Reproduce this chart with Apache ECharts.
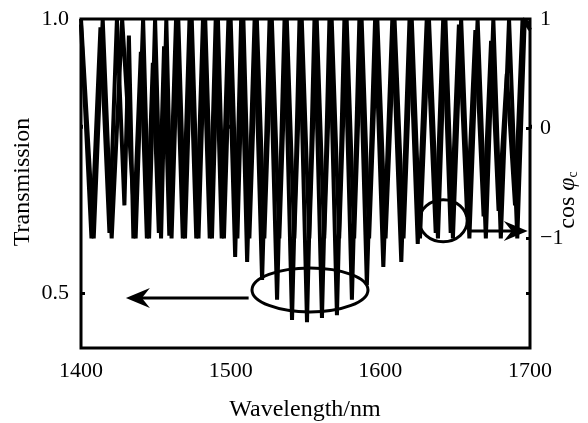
<!DOCTYPE html>
<html><head><meta charset="utf-8">
<script src="https://cdn.jsdelivr.net/npm/echarts@6/dist/echarts.min.js"></script>
<style>html,body{margin:0;padding:0;background:#fff}#c{width:588px;height:423px}</style>
</head><body><div id="c"></div><script>
// Transmission curve (left axis): alternating peaks and dips
const transWave = [1400,1407,1413,1419,1424,1429,1432,1435,1440,1444,1448,1452,1455.5,1459,1463.5,1468,1472.5,1477,1481.5,1486,1490,1494,1498.5,1503,1507,1511,1516,1521,1526,1531,1536,1541,1546,1551,1556,1561,1566,1571,1576,1581,1586,1591,1596.5,1602,1608,1614,1619.5,1625,1631,1637,1642,1647,1652.5,1658,1663.5,1669,1674,1679,1684.5,1690,1695,1700];
const transValue = [0.99,0.60,0.985,0.61,1.0,0.66,0.97,0.60,0.94,0.60,0.92,0.61,0.95,0.605,1.0,0.60,1.0,0.60,1.0,0.60,1.0,0.60,1.0,0.566,1.0,0.557,1.0,0.524,1.0,0.488,1.0,0.451,1.0,0.447,1.0,0.455,1.0,0.46,1.0,0.488,1.0,0.515,1.0,0.548,1.0,0.557,1.0,0.59,1.0,0.61,1.0,0.61,0.99,0.64,0.98,0.64,0.96,0.65,0.90,0.66,1.0,0.99];
// cos(phi_c) curve (right axis)
const cosWave = [1400,1408.5,1414.5,1420.5,1427.5,1436.5,1441.5,1445.5,1449.5,1453.5,1457,1460.5,1465,1469.5,1474,1478.5,1483,1487.5,1491.5,1495.5,1500,1504.5,1508.5,1512.5,1517.5,1522.5,1527.5,1532.5,1537.5,1542.5,1547.5,1552.5,1557.5,1562.5,1567.5,1572.5,1577.5,1582.5,1587.5,1592.5,1598,1603.5,1609.5,1615.5,1621,1626.5,1632.5,1638.5,1643.5,1648.5,1654,1659.5,1665,1670.5,1675.5,1680.5,1686,1691.5,1696.5,1700];
const cosValue = [1,-1,1,-1,1,-1,1,-1,1,-1,1,-1,1,-1,1,-1,1,-1,1,-1,1,-1,1,-1,1,-1,1,-1,1,-1,1,-1,1,-1,1,-1,1,-1,1,-1,1,-1,1,-1,1,-1,1,-1,1,-1,1,-1,1,-1,1,-1,1,-1,1,0.9];
const xTickLabels = [1400,1500,1600,1700];
const leftTickLabels = [0.5,1.0];
const rightTickLabels = [-1,0,1];
const xName = 'Wavelength/nm';
const leftName = 'Transmission';

const FONT = 'Liberation Serif, Times New Roman, serif';
const chart = echarts.init(document.getElementById('c'), null, {renderer:'canvas'});
const tData = transWave.map((w,i)=>[w,transValue[i]]);
const cData = cosWave.map((w,i)=>[w,cosValue[i]]);
const minus = v => (v<0 ? '\u2212'+Math.abs(v) : String(v));

chart.setOption({
  animation:false,
  backgroundColor:'#fff',
  grid:{left:81,right:58,top:19,bottom:75,show:true,borderColor:'#000',borderWidth:3,backgroundColor:'transparent'},
  xAxis:{type:'value',min:1400,max:1700,interval:50,
    axisLine:{show:false},splitLine:{show:false},
    axisTick:{show:true,inside:true,length:4,lineStyle:{color:'#000',width:3}},
    axisLabel:{color:'#000',fontFamily:FONT,fontSize:22,margin:12,
      formatter:v=>xTickLabels.includes(v)?String(v):''}},
  yAxis:[
    {type:'value',min:0.4,max:1.0,position:'left',
      axisLine:{show:false},splitLine:{show:false},
      axisTick:{show:true,inside:true,length:4,customValues:[0.5],lineStyle:{color:'#000',width:3}},
      axisLabel:{color:'#000',fontFamily:FONT,fontSize:22,margin:12,customValues:leftTickLabels,formatter:v=>v.toFixed(1)}},
    {type:'value',min:-2,max:1,position:'right',
      axisLine:{show:false},splitLine:{show:false},
      axisTick:{show:true,inside:true,length:4,customValues:[-1.5,-1,0],lineStyle:{color:'#000',width:3}},
      axisLabel:{color:'#000',fontFamily:FONT,fontSize:22,margin:10,customValues:rightTickLabels,formatter:minus}}
  ],
  series:[
    {type:'line',name:'T',yAxisIndex:0,data:tData,showSymbol:false,symbol:'none',
      lineStyle:{color:'#000',width:4},z:3},
    {type:'line',name:'cos',yAxisIndex:1,data:cData,showSymbol:false,symbol:'none',
      lineStyle:{color:'#000',width:4},z:3}
  ]
});

// annotations placed in data coordinates
const pL = p => chart.convertToPixel({xAxisIndex:0,yAxisIndex:0},p);
const pR = p => chart.convertToPixel({xAxisIndex:0,yAxisIndex:1},p);
const e1 = pL([1553,0.506]);
const a1s = pL([1512,0.491]), a1e = pL([1430,0.491]);
const e2 = pR([1642,-0.84]);
const a2s = pR([1659,-0.933]), a2e = pR([1698.5,-0.933]);
const head = (tip, dir) => { // dir: -1 left, +1 right
  const L=24, H=10, N=8;
  return [[tip[0],tip[1]],[tip[0]-dir*L,tip[1]-H],[tip[0]-dir*(L-N),tip[1]],[tip[0]-dir*L,tip[1]+H]];
};
const st = {stroke:'#000',lineWidth:3,fill:null};
chart.setOption({graphic:[
  {type:'ellipse',shape:{cx:e1[0],cy:e1[1],rx:58,ry:22},style:st,z:10},
  {type:'line',shape:{x1:a1s[0],y1:a1s[1],x2:a1e[0]+10,y2:a1e[1]},style:{stroke:'#000',lineWidth:3},z:10},
  {type:'polygon',shape:{points:head(a1e,-1)},style:{fill:'#000'},z:10},
  {type:'ellipse',shape:{cx:e2[0],cy:e2[1],rx:24,ry:21},style:st,z:10},
  {type:'line',shape:{x1:a2s[0],y1:a2s[1],x2:a2e[0]-10,y2:a2e[1]},style:{stroke:'#000',lineWidth:3},z:10},
  {type:'polygon',shape:{points:head(a2e,1)},style:{fill:'#000'},z:10},
  {type:'text',x:305,y:410,style:{text:xName,fontFamily:FONT,fontSize:24,fill:'#000',align:'center',verticalAlign:'middle'}},
  {type:'text',x:23,y:182,rotation:Math.PI/2,style:{text:leftName,fontFamily:FONT,fontSize:24,fill:'#000',align:'center',verticalAlign:'middle'}},
  {type:'text',x:568,y:200,rotation:Math.PI/2,style:{text:'{n|cos }{i|\u03c6}{s|c}',fontFamily:FONT,fontSize:24,fill:'#000',align:'center',verticalAlign:'middle',
    rich:{n:{fontFamily:FONT,fontSize:24,fill:'#000'},i:{fontFamily:FONT,fontSize:24,fontStyle:'italic',fill:'#000'},s:{fontFamily:FONT,fontSize:14,fill:'#000',verticalAlign:'bottom',padding:[8,0,0,0]}}}}
]});
</script></body></html>
